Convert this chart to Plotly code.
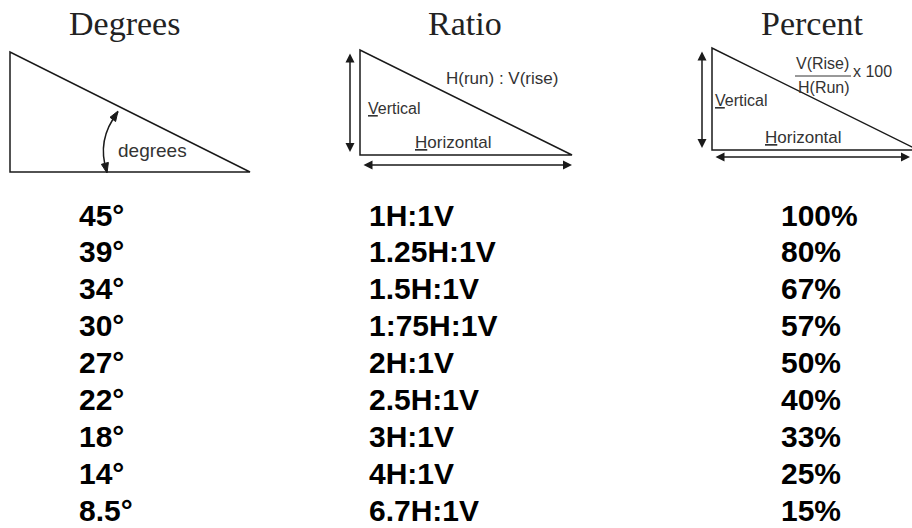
import plotly.graph_objects as go

# table data
degrees = ["45°", "39°", "34°", "30°", "27°", "22°", "18°", "14°", "8.5°"]
ratios = ["1H:1V", "1.25H:1V", "1.5H:1V", "1:75H:1V", "2H:1V", "2.5H:1V", "3H:1V", "4H:1V", "6.7H:1V"]
percents = ["100%", "80%", "67%", "57%", "50%", "40%", "33%", "25%", "15%"]
headers = ["Degrees", "Ratio", "Percent"]

W, H = 912, 528
rows = list(range(len(degrees)))

fig = go.Figure()

col_x = [79, 369, 781]
for xpos, col in zip(col_x, [degrees, ratios, percents]):
    fig.add_trace(go.Scatter(
        x=[xpos] * len(col), y=rows, mode="text", text=col,
        textposition="middle right", yaxis="y2", hoverinfo="skip",
        textfont=dict(family="Liberation Sans", size=30, color="black", weight="bold"),
        showlegend=False,
    ))

line = dict(color="#1a1a1a", width=1.5)
ink = "#1a1a1a"
shapes = [
    # degrees triangle
    dict(type="path", path="M10,52 L10,172 L250,172 Z", line=line),
    dict(type="path", path="M118,112 Q96,140 107,172", line=dict(color=ink, width=1.5)),
    dict(type="path", path="M118,111 L115.6,121.5 L110,117.3 Z", fillcolor=ink, line=dict(color=ink, width=1)),
    dict(type="path", path="M107,173 L108.4,162.4 L101.4,164.3 Z", fillcolor=ink, line=dict(color=ink, width=1)),
    # ratio triangle
    dict(type="path", path="M360,50 L360,155 L572,155 Z", line=line),
    # percent triangle
    dict(type="path", path="M712,48 L712,150 L918,150 Z", line=line),
    # fraction bar
    dict(type="line", x0=795, x1=851, y0=76, y1=76, line=dict(color="#333", width=1)),
]

annotations = []
for hx, name in zip([124, 465, 812], headers):
    annotations.append(dict(x=hx, y=23, text=name, showarrow=False,
                            font=dict(family="Liberation Serif", size=34, color="#222")))

def label(x, y, text, size=17, anchor="left"):
    annotations.append(dict(x=x, y=y, text=text, showarrow=False, xanchor=anchor,
                            font=dict(family="Liberation Sans", size=size, color="#333")))

label(116, 150, "degrees", 19)
label(502, 78, "H(run) : V(rise)", 17, "center")
label(366, 108, "<u>V</u>ertical", 16)
label(413, 142, "<u>H</u>orizontal", 17)
label(713, 100, "<u>V</u>ertical", 16)
label(763, 137, "<u>H</u>orizontal", 17)
label(822, 63, "V(Rise)", 16, "center")
label(824, 87, "H(Run)", 16, "center")
label(851, 71, "x 100", 16)

# double-headed arrows
for x0, y0, x1, y1 in [(350, 52, 350, 152), (362, 165, 572, 165),
                       (702, 50, 702, 148), (714, 157, 910, 157)]:
    annotations.append(dict(x=x1, y=y1, ax=x0, ay=y0, xref="x", yref="y", axref="x", ayref="y",
                            showarrow=True, arrowhead=2, startarrowhead=2, arrowside="end+start",
                            arrowsize=1.2, arrowwidth=1.5, arrowcolor=ink, text=""))

row_px0, row_step = 218, 36.9
fig.update_layout(
    width=W, height=H, margin=dict(l=0, r=0, t=0, b=0),
    paper_bgcolor="white", plot_bgcolor="white",
    xaxis=dict(range=[0, W], visible=False, fixedrange=True),
    yaxis=dict(range=[H, 0], visible=False, fixedrange=True),
    yaxis2=dict(range=[(H - row_px0) / row_step, -row_px0 / row_step], overlaying="y",
                visible=False, fixedrange=True),
    shapes=shapes, annotations=annotations,
)

# drop the default page margin so the figure fills the window
fig.write_html("out.html", config={"displayModeBar": False},
               post_script="document.body.style.margin='0';document.body.style.overflow='hidden';")
